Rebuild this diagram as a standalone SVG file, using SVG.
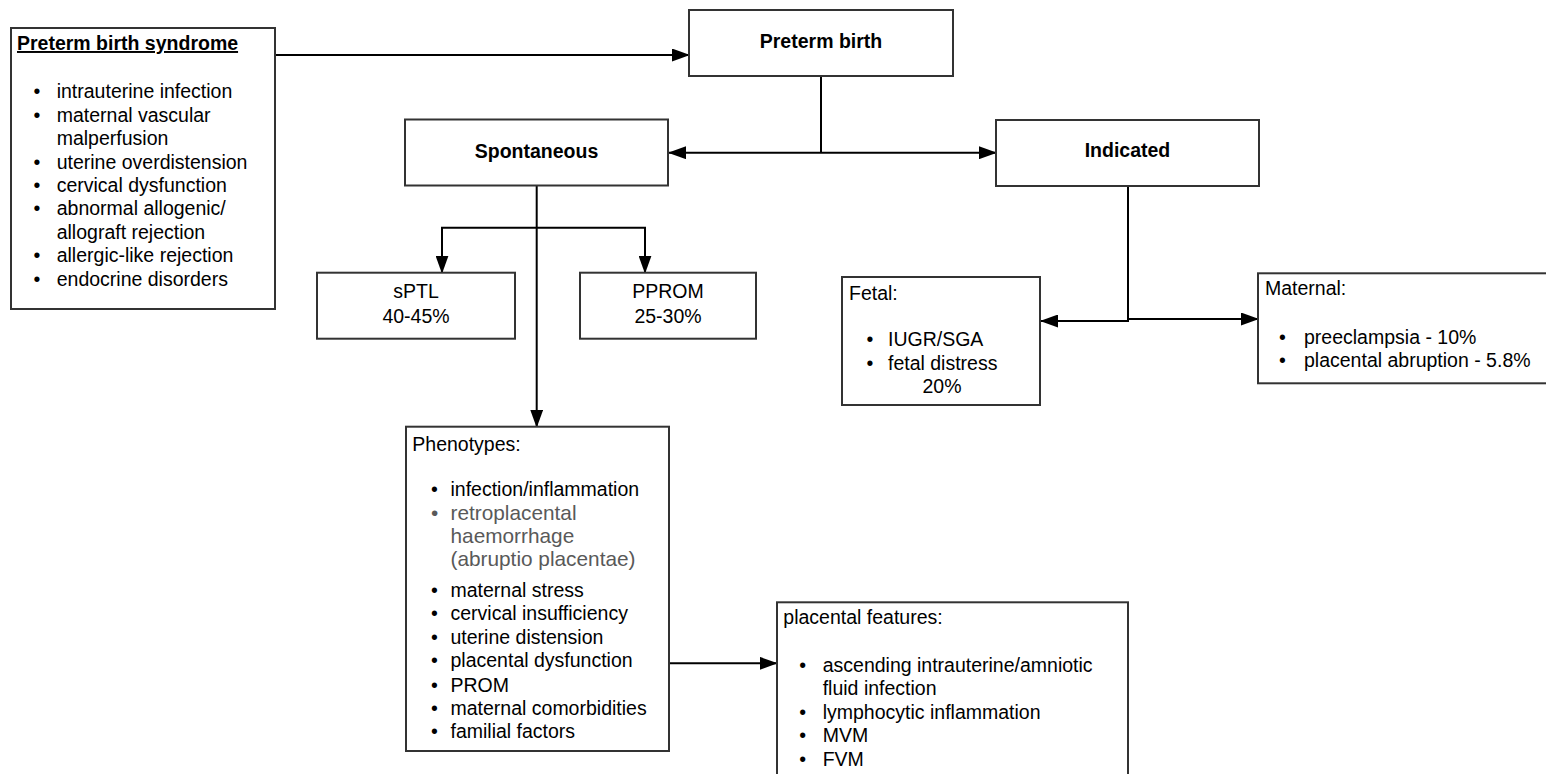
<svg xmlns="http://www.w3.org/2000/svg" width="1546" height="774" viewBox="0 0 1546 774">
<style>
.box{fill:#fff;stroke:#333;stroke-width:2}
.con{fill:none;stroke:#000;stroke-width:2}
text{font-family:"Liberation Sans",Arial,sans-serif;font-size:19.5px;fill:#000}
.b{font-weight:bold}
.c{text-anchor:middle}
.g{fill:#595959;font-size:20.8px}
</style>
<defs>
<marker id="ah" markerWidth="18" markerHeight="13" refX="17" refY="6.5" orient="auto-start-reverse" markerUnits="userSpaceOnUse">
<path d="M0,0 L18,6.5 L0,13 z" fill="#000"/>
</marker>
</defs>
<g id="connectors">
<path class="con" d="M275,55 H689" marker-end="url(#ah)"/>
<path class="con" d="M821,76 V152.7"/>
<path class="con" d="M821,152.7 H669" marker-end="url(#ah)"/>
<path class="con" d="M821,152.7 H996" marker-end="url(#ah)"/>
<path class="con" d="M536.7,186 V426.7" marker-end="url(#ah)"/>
<path class="con" d="M442,272.7 V227.7 H645 V272.7" marker-start="url(#ah)" marker-end="url(#ah)"/>
<path class="con" d="M1128,186 V321 H1041" marker-end="url(#ah)"/>
<path class="con" d="M1128,319 H1258" marker-end="url(#ah)"/>
<path class="con" d="M654,663.3 H776.7" marker-end="url(#ah)"/>
</g>
<g id="syndrome">
<rect class="box" x="11" y="28" width="264" height="281"/>
<text class="b" x="17" y="50" text-decoration="underline">Preterm birth syndrome</text>
<text x="33.5" y="98">•</text><text x="56.7" y="98">intrauterine infection</text>
<text x="33.5" y="121.5">•</text><text x="56.7" y="121.5">maternal vascular</text>
<text x="56.7" y="145">malperfusion</text>
<text x="33.5" y="168.5">•</text><text x="56.7" y="168.5">uterine overdistension</text>
<text x="33.5" y="192">•</text><text x="56.7" y="192">cervical dysfunction</text>
<text x="33.5" y="215.3">•</text><text x="56.7" y="215.3">abnormal allogenic/</text>
<text x="56.7" y="238.7">allograft rejection</text>
<text x="33.5" y="262.2">•</text><text x="56.7" y="262.2">allergic-like rejection</text>
<text x="33.5" y="285.6">•</text><text x="56.7" y="285.6">endocrine disorders</text>
</g>
<g id="preterm-birth">
<rect class="box" x="689" y="10" width="264" height="66"/>
<text class="b c" x="821" y="47.5">Preterm birth</text>
</g>
<g id="spontaneous">
<rect class="box" x="405" y="119.5" width="263" height="66"/>
<text class="b c" x="536.5" y="157.5">Spontaneous</text>
</g>
<g id="indicated">
<rect class="box" x="996" y="120" width="263" height="66"/>
<text class="b c" x="1127.5" y="157">Indicated</text>
</g>
<g id="sptl">
<rect class="box" x="317" y="272.7" width="198" height="66"/>
<text class="c" x="416" y="298">sPTL</text>
<text class="c" x="416" y="323">40-45%</text>
</g>
<g id="pprom">
<rect class="box" x="580" y="272.7" width="176" height="66"/>
<text class="c" x="668" y="298">PPROM</text>
<text class="c" x="668" y="323">25-30%</text>
</g>
<g id="fetal">
<rect class="box" x="842" y="277" width="198" height="128"/>
<text x="849" y="300">Fetal:</text>
<text x="866.5" y="346">•</text><text x="888" y="346">IUGR/SGA</text>
<text x="866.5" y="369.5">•</text><text x="888" y="369.5">fetal distress</text>
<text class="c" x="942" y="393">20%</text>
</g>
<g id="maternal">
<rect class="box" x="1258" y="273.3" width="300" height="110"/>
<text x="1265" y="295">Maternal:</text>
<text x="1279" y="343.5">•</text><text x="1304" y="343.5">preeclampsia - 10%</text>
<text x="1279" y="367">•</text><text x="1304" y="367">placental abruption - 5.8%</text>
</g>
<g id="phenotypes">
<rect class="box" x="406" y="426.7" width="263" height="324.3"/>
<text x="412.3" y="451">Phenotypes:</text>
<text x="431" y="496">•</text><text x="450.5" y="496">infection/inflammation</text>
<text class="g" x="431" y="519.5">•</text><text class="g" x="450.5" y="519.5">retroplacental</text>
<text class="g" x="450.5" y="542.5">haemorrhage</text>
<text class="g" x="450.5" y="566">(abruptio placentae)</text>
<text x="431" y="597">•</text><text x="450.5" y="597">maternal stress</text>
<text x="431" y="620">•</text><text x="450.5" y="620">cervical insufficiency</text>
<text x="431" y="644">•</text><text x="450.5" y="644">uterine distension</text>
<text x="431" y="667.3">•</text><text x="450.5" y="667.3">placental dysfunction</text>
<text x="431" y="691.5">•</text><text x="450.5" y="691.5">PROM</text>
<text x="431" y="715">•</text><text x="450.5" y="715">maternal comorbidities</text>
<text x="431" y="738.3">•</text><text x="450.5" y="738.3">familial factors</text>
</g>
<g id="placental-features">
<rect class="box" x="777" y="602.3" width="351" height="190"/>
<text x="783.3" y="624">placental features:</text>
<text x="799.3" y="671.5">•</text><text x="822.7" y="671.5">ascending intrauterine/amniotic</text>
<text x="822.7" y="695">fluid infection</text>
<text x="799.3" y="718.5">•</text><text x="822.7" y="718.5">lymphocytic inflammation</text>
<text x="799.3" y="742">•</text><text x="822.7" y="742">MVM</text>
<text x="799.3" y="765.5">•</text><text x="822.7" y="765.5">FVM</text>
</g>
</svg>
